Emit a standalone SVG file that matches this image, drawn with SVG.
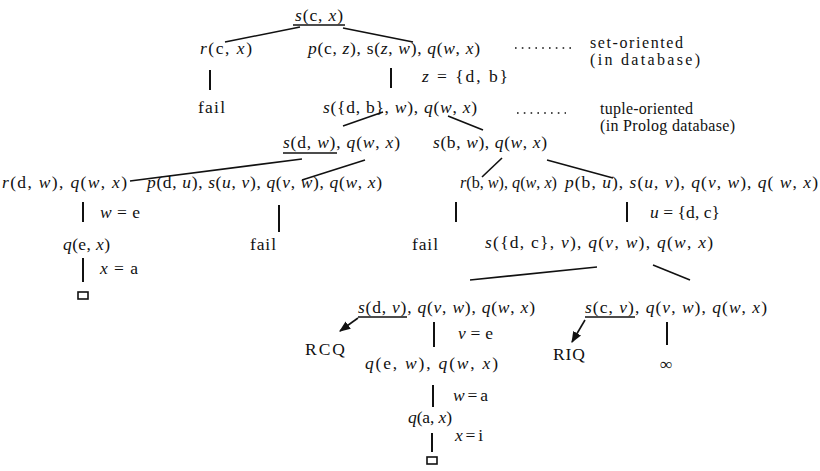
<svg xmlns="http://www.w3.org/2000/svg" width="820" height="471" viewBox="0 0 820 471">
<style>
text{font-family:"Liberation Serif","Times New Roman",serif;font-size:17.5px;fill:#111}
.i{font-style:italic}
.n{font-size:16px}
.e{stroke:#111;stroke-width:1.6;fill:none}
.b{stroke:#111;stroke-width:2;fill:none}
.d{stroke:#111;stroke-width:1.6;stroke-dasharray:1.6 5.2;fill:none}
</style>
<defs>
<marker id="ah" viewBox="0 0 10 10" refX="9" refY="5" markerWidth="7" markerHeight="7" orient="auto"><path d="M0,1 L10,5 L0,9 Z" fill="#111"/></marker>
</defs>
<rect width="820" height="471" fill="#fff"/>
<g id="connectors">
<line class="e" x1="225" y1="42" x2="300" y2="27"/>
<line class="e" x1="343" y1="28" x2="413" y2="42"/>
<line class="b" x1="210" y1="70" x2="210" y2="90"/>
<line class="b" x1="391" y1="68" x2="391" y2="88"/>
<line class="e" x1="343" y1="126" x2="383" y2="112"/>
<line class="e" x1="448" y1="116" x2="483" y2="130"/>
<line class="e" x1="130" y1="181" x2="302" y2="159"/>
<line class="e" x1="302" y1="180" x2="365" y2="160"/>
<line class="e" x1="502" y1="158" x2="482" y2="177"/>
<line class="e" x1="547" y1="160" x2="613" y2="178"/>
<line class="b" x1="83" y1="202" x2="83" y2="222"/>
<line class="b" x1="279" y1="205" x2="279" y2="232"/>
<line class="b" x1="456" y1="202" x2="456" y2="222"/>
<line class="b" x1="627" y1="202" x2="627" y2="222"/>
<line class="b" x1="83" y1="258" x2="83" y2="282"/>
<line class="e" x1="470" y1="280" x2="597" y2="267"/>
<line class="e" x1="653" y1="265" x2="690" y2="280"/>
<line class="b" x1="434" y1="322" x2="434" y2="347"/>
<line class="b" x1="667" y1="322" x2="667" y2="345"/>
<line class="b" x1="433" y1="385" x2="433" y2="407"/>
<line class="b" x1="432" y1="433" x2="432" y2="452"/>
<line class="e" x1="358" y1="318" x2="340" y2="331" marker-end="url(#ah)"/>
<line class="e" x1="585" y1="320" x2="572" y2="342" marker-end="url(#ah)"/>
<line class="d" x1="515" y1="48" x2="572" y2="48"/>
<line class="d" x1="517" y1="113" x2="566" y2="113"/>
</g>
<g id="n-root"><text x="295" y="21" textLength="48"><tspan class="i">s</tspan>(c, <tspan class="i">x</tspan>)</text><line class="e" x1="293" y1="25" x2="345" y2="25"/></g>
<g id="n-rcx"><text x="200" y="54" textLength="52"><tspan class="i">r</tspan>(c,  <tspan class="i">x</tspan>)</text></g>
<g id="n-pcz"><text x="308" y="54" textLength="172"><tspan class="i">p</tspan>(c, <tspan class="i">z</tspan>), s(<tspan class="i">z</tspan>, <tspan class="i">w</tspan>), <tspan class="i">q</tspan>(<tspan class="i">w</tspan>, <tspan class="i">x</tspan>)</text></g>
<g id="n-set"><text class="n" x="590" y="48" textLength="93">set-oriented</text><text class="n" x="590" y="65" textLength="110">(in database)</text></g>
<g id="n-zdb"><text x="422" y="82" textLength="86"><tspan class="i">z</tspan> = {d, b}</text></g>
<g id="n-fail1"><text x="198" y="113" textLength="27">fail</text></g>
<g id="n-sdb"><text x="323" y="113" textLength="154"><tspan class="i">s</tspan>({d, b}, <tspan class="i">w</tspan>), <tspan class="i">q</tspan>(<tspan class="i">w</tspan>, <tspan class="i">x</tspan>)</text></g>
<g id="n-tuple"><text class="n" x="600" y="114" textLength="93">tuple-oriented</text><text class="n" x="600" y="131" textLength="135">(in Prolog database)</text></g>
<g id="n-sdw"><text x="283" y="148" textLength="117"><tspan class="i">s</tspan>(d, <tspan class="i">w</tspan>), <tspan class="i">q</tspan>(<tspan class="i">w</tspan>, <tspan class="i">x</tspan>)</text><line class="e" x1="283" y1="153" x2="337" y2="153"/></g>
<g id="n-sbw"><text x="433" y="148" textLength="114"><tspan class="i">s</tspan>(b, <tspan class="i">w</tspan>), <tspan class="i">q</tspan>(<tspan class="i">w</tspan>, <tspan class="i">x</tspan>)</text></g>
<g id="n-rdw"><text x="2" y="188" textLength="125"><tspan class="i">r</tspan>(d, <tspan class="i">w</tspan>), <tspan class="i">q</tspan>(<tspan class="i">w</tspan>, <tspan class="i">x</tspan>)</text></g>
<g id="n-pdu"><text x="147" y="188" textLength="235"><tspan class="i">p</tspan>(d, <tspan class="i">u</tspan>), <tspan class="i">s</tspan>(<tspan class="i">u</tspan>, <tspan class="i">v</tspan>), <tspan class="i">q</tspan>(<tspan class="i">v</tspan>, <tspan class="i">w</tspan>), <tspan class="i">q</tspan>(<tspan class="i">w</tspan>, <tspan class="i">x</tspan>)</text></g>
<g id="n-rbw"><text class="n" x="460" y="188" textLength="97" lengthAdjust="spacingAndGlyphs"><tspan class="i">r</tspan>(b, <tspan class="i">w</tspan>), <tspan class="i">q</tspan>(<tspan class="i">w</tspan>, <tspan class="i">x</tspan>)</text></g>
<g id="n-pbu"><text x="565" y="188" textLength="253"><tspan class="i">p</tspan>(b, <tspan class="i">u</tspan>), <tspan class="i">s</tspan>(<tspan class="i">u</tspan>, <tspan class="i">v</tspan>), <tspan class="i">q</tspan>(<tspan class="i">v</tspan>, <tspan class="i">w</tspan>), <tspan class="i">q</tspan>( <tspan class="i">w</tspan>,  <tspan class="i">x</tspan>)</text></g>
<g id="n-we"><text x="100" y="218" textLength="40"><tspan class="i">w</tspan> = e</text></g>
<g id="n-udc"><text x="650" y="218" textLength="70"><tspan class="i">u</tspan> = {d, c}</text></g>
<g id="n-qex"><text x="63" y="250" textLength="47"><tspan class="i">q</tspan>(e, <tspan class="i">x</tspan>)</text></g>
<g id="n-fail2"><text x="250" y="250" textLength="26">fail</text></g>
<g id="n-fail3"><text x="412" y="250" textLength="26">fail</text></g>
<g id="n-sdc"><text x="485" y="248" textLength="228"><tspan class="i">s</tspan>({d, c}, <tspan class="i">v</tspan>), <tspan class="i">q</tspan>(<tspan class="i">v</tspan>, <tspan class="i">w</tspan>),  <tspan class="i">q</tspan>(<tspan class="i">w</tspan>, <tspan class="i">x</tspan>)</text></g>
<g id="n-xa"><text x="100" y="274" textLength="38"><tspan class="i">x</tspan> = a</text></g>
<g id="n-box1"><rect x="78" y="292" width="10" height="7" class="e"/></g>
<g id="n-sdv"><text x="358" y="313" textLength="177"><tspan class="i">s</tspan>(d, <tspan class="i">v</tspan>), <tspan class="i">q</tspan>(<tspan class="i">v</tspan>, <tspan class="i">w</tspan>),  <tspan class="i">q</tspan>(<tspan class="i">w</tspan>, <tspan class="i">x</tspan>)</text><line class="e" x1="358" y1="317" x2="407" y2="317"/></g>
<g id="n-scv"><text x="585" y="313" textLength="182"><tspan class="i">s</tspan>(c, <tspan class="i">v</tspan>), <tspan class="i">q</tspan>(<tspan class="i">v</tspan>, <tspan class="i">w</tspan>),  <tspan class="i">q</tspan>(<tspan class="i">w</tspan>, <tspan class="i">x</tspan>)</text><line class="e" x1="585" y1="317" x2="635" y2="317"/></g>
<g id="n-rcq"><text x="305" y="355" textLength="40">RCQ</text></g>
<g id="n-riq"><text x="553" y="360" textLength="32">RIQ</text></g>
<g id="n-ve"><text x="458" y="339" textLength="35"><tspan class="i">v</tspan> = e</text></g>
<g id="n-inf"><text x="660" y="370" textLength="14">∞</text></g>
<g id="n-qew"><text x="365" y="369" textLength="133"><tspan class="i">q</tspan>(e,  <tspan class="i">w</tspan>),  <tspan class="i">q</tspan>(<tspan class="i">w</tspan>,  <tspan class="i">x</tspan>)</text></g>
<g id="n-wa"><text x="453" y="401" textLength="35"><tspan class="i">w</tspan> = a</text></g>
<g id="n-qax"><text x="408" y="423" textLength="44"><tspan class="i">q</tspan>(a, <tspan class="i">x</tspan>)</text></g>
<g id="n-xi"><text x="455" y="441" textLength="28"><tspan class="i">x</tspan> = i</text></g>
<g id="n-box2"><rect x="427" y="457" width="10" height="7" class="e"/></g>
</svg>
